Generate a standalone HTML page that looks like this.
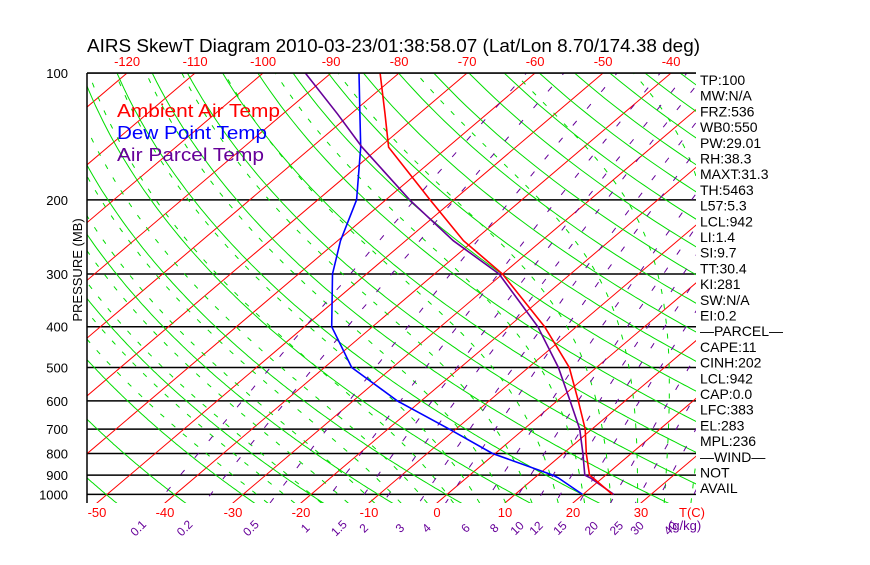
<!DOCTYPE html>
<html><head><meta charset="utf-8"><style>
body{margin:0;background:#fff;}
svg text{font-family:"Liberation Sans",sans-serif;}
</style></head><body>
<svg id="c" width="870" height="560" xmlns="http://www.w3.org/2000/svg">
<defs><clipPath id="clip"><rect x="87" y="73" width="609" height="430"/></clipPath></defs>
<text x="87" y="52" font-size="18" textLength="613" lengthAdjust="spacingAndGlyphs" fill="#000">AIRS SkewT Diagram 2010-03-23/01:38:58.07 (Lat/Lon 8.70/174.38 deg)</text>
<g id="grid" clip-path="url(#clip)"></g>
<g id="curves" clip-path="url(#clip)"></g>
<line x1="87" y1="73" x2="87" y2="503" stroke="#000" stroke-width="1.5"/>
<line x1="87" y1="73" x2="696" y2="73" stroke="#000" stroke-width="1.5"/>
<g id="labels"></g>
<text x="117" y="117" font-size="18" textLength="163" lengthAdjust="spacingAndGlyphs" fill="#ff0000">Ambient Air Temp</text>
<text x="117" y="139" font-size="18" textLength="150" lengthAdjust="spacingAndGlyphs" fill="#0000ff">Dew Point Temp</text>
<text x="117" y="161" font-size="18" textLength="147" lengthAdjust="spacingAndGlyphs" fill="#660099">Air Parcel Temp</text>
<text transform="translate(82,270) rotate(-90)" text-anchor="middle" font-size="13" fill="#000">PRESSURE (MB)</text>
<text x="679" y="517" font-size="13" fill="#ff0000">T(C)</text>
<text x="668" y="530" font-size="13" fill="#660099">(g/kg)</text>
<g id="info"></g>
</svg>
<script>
const pressureLevels=[100,125,150,200,250,300,400,500,600,700,800,900,914,1000];
const ambientTemp=[-82.8,-75,-68.7,-53.5,-41.5,-30,-14.7,-4,3.1,9.0,13.4,17.6,18.6,24.3];
const dewPoint=[-85.9,-78.7,-72.8,-64.3,-59.6,-55,-46,-36,-23.5,-11,-0.4,12.2,13.5,19.9];
const parcelTemp=[-93.8,-82,-72.6,-56.5,-43,-30.5,-15.7,-5.6,1.9,8.2,12.9,16.9,18.2,24.5];
const yTicks=[100,200,300,400,500,600,700,800,900,1000];
const bottomTempTicks=[-50,-40,-30,-20,-10,0,10,20,30];
const topTempTicks=[-120,-110,-100,-90,-80,-70,-60,-50,-40];
const mixRatios=[0.1,0.2,0.5,1,1.5,2,3,4,6,8,10,12,15,20,25,30,40];
const mixLabels=["0.1","0.2","0.5","1","1.5","2","3","4","6","8","10","12","15","20","25","30","40"];
const infoLines=["TP:100","MW:N/A","FRZ:536","WB0:550","PW:29.01","RH:38.3","MAXT:31.3","TH:5463","L57:5.3","LCL:942","LI:1.4","SI:9.7","TT:30.4","KI:281","SW:N/A","EI:0.2","\u2014PARCEL\u2014","CAPE:11","CINH:202","LCL:942","CAP:0.0","LFC:383","EL:283","MPL:236","\u2014WIND\u2014","NOT","AVAIL"];

const NS="http://www.w3.org/2000/svg";
function yP(p){return 73+183*Math.log(p/100);}
function xT(t,p){return 437+6.8*t+(503-yP(p))*1.177;}
function mk(tag,attrs,parent){const e=document.createElementNS(NS,tag);for(const k in attrs)e.setAttribute(k,attrs[k]);parent.appendChild(e);return e;}
const grid=document.getElementById('grid'),curves=document.getElementById('curves'),labels=document.getElementById('labels'),info=document.getElementById('info');
function poly(pts,stroke,w,dash,parent,name){
  const e=mk('polyline',{points:pts.map(q=>q[0].toFixed(1)+','+q[1].toFixed(1)).join(' '),fill:'none',stroke:stroke,'stroke-width':w},parent);
  if(dash)e.setAttribute('stroke-dasharray',dash);
  
  
  return e;
}
const plevs=[];for(let p=90;p<=1060;p+=5)plevs.push(p);
yTicks.forEach(p=>{
  const l=mk('line',{x1:87,x2:696,y1:yP(p),y2:yP(p),stroke:'#000','stroke-width':1.5},grid);
  
  
  const t=mk('text',{x:68,y:yP(p)+5,'text-anchor':'end','font-size':13,fill:'#000'},labels);
  t.textContent=p;
  
  
});
for(let T=-160;T<=50;T+=10){
  poly([[xT(T,1050),yP(1050)],[xT(T,90),yP(90)]],'#ff0000',1,null,grid,'isotherm');
}
for(let th=163;th<=530;th+=10){
  const pts=plevs.map(p=>[xT(th*Math.pow(p/1000,0.286)-273.15,p),yP(p)]);
  poly(pts,'#00dd00',1,null,grid,'dry-adiabat');
}
function es(t){return 6.112*Math.exp(17.67*t/(t+243.5));}
function step(T,p,dp){
  const tc=T-273.15,e=es(tc),rs=0.622*e/(p-e),Lv=2.5e6,Rd=287,cp=1005;
  const g=(Rd*T+Lv*rs)/(cp+Lv*Lv*rs*0.622/(Rd*T*T));
  return T+g*dp/p;
}
function moist(T0){
  let T=T0+273.15,Td=T;
  for(let p=1000;p<1050;p+=5){Td=step(Td,p,5);}
  const pts=[[xT(Td-273.15,1050),yP(1050)]];
  let Tu=T;
  for(let p=1000;p>=90;p-=5){pts.push([xT(Tu-273.15,p),yP(p)]);Tu=step(Tu,p,-5);}
  return pts;
}
for(let T0=-28;T0<=40;T0+=4){poly(moist(T0),'#00dd00',1,'5,10',grid,'moist-adiabat');}
function tdFromR(r,p){const e=r*p/(622+r),l=Math.log(e/6.112);return 243.5*l/(17.67-l);}
mixRatios.forEach((r,i)=>{
  const pts=plevs.map(p=>[xT(tdFromR(r,p),p),yP(p)]);
  poly(pts,'#660099',1,'6,16',grid,'mixing-ratio-line');
  const x=xT(tdFromR(r,1050),1050)-16;
  const t=mk('text',{transform:'translate('+x.toFixed(1)+',531) rotate(-45)','text-anchor':'middle','font-size':12,fill:'#660099'},labels);
  t.textContent=mixLabels[i];
  
  
});
bottomTempTicks.forEach(T=>{
  const t=mk('text',{x:437+6.8*T,y:517,'text-anchor':'middle','font-size':13,fill:'#ff0000'},labels);
  t.textContent=T;
  
  
});
topTempTicks.forEach(T=>{
  const t=mk('text',{x:xT(T,100),y:66,'text-anchor':'middle','font-size':13,fill:'#ff0000'},labels);
  t.textContent=T;
  
  
});
function prof(arr,color,name){return poly(pressureLevels.map((p,i)=>[xT(arr[i],p),yP(p)]),color,1.6,null,curves,name);}
prof(dewPoint,'#0000ff','dewpoint-curve');
prof(parcelTemp,'#660099','parcel-curve');
prof(ambientTemp,'#ff0000','ambient-temp-curve');
infoLines.forEach((s,i)=>{
  const t=mk('text',{x:700,y:85+i*15.7,'font-size':14,fill:'#000'},info);
  t.textContent=s;
  
  
});
</script>
</body></html>
